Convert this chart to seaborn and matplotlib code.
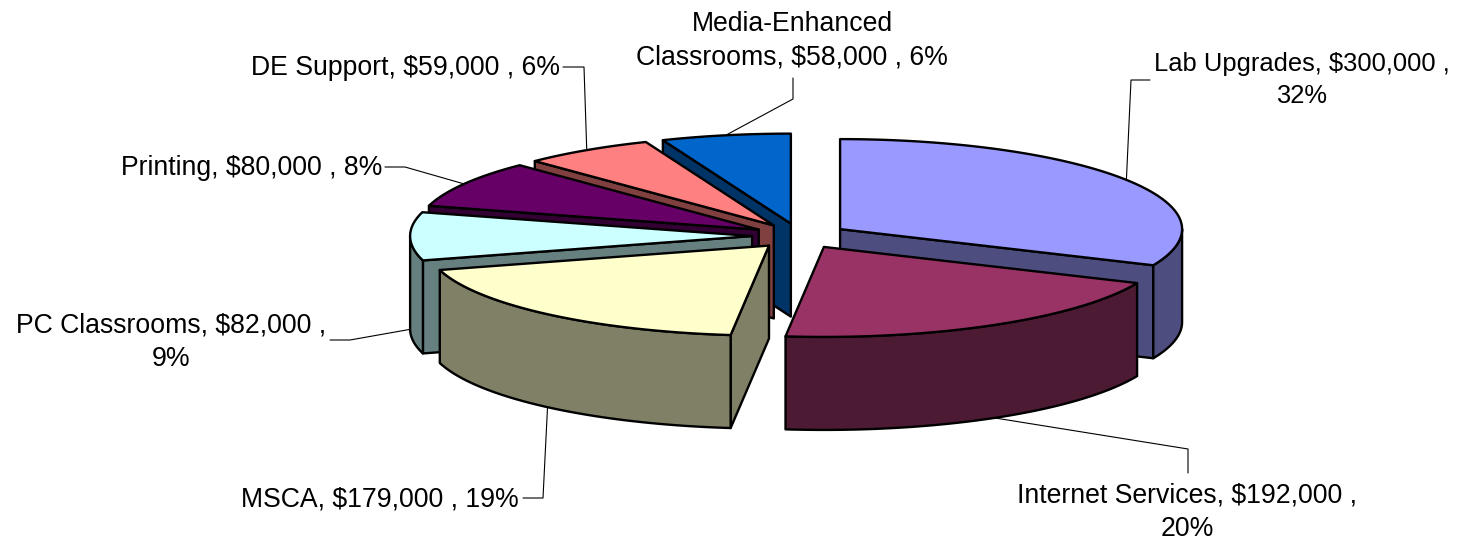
import numpy as np
import matplotlib
matplotlib.use("Agg")
import matplotlib.pyplot as plt
from matplotlib.patches import Polygon
import seaborn as sns

# categories, clockwise from 12 o'clock
names = ["Lab Upgrades", "Internet Services", "MSCA", "PC Classrooms",
         "Printing", "DE Support", "Media-Enhanced\nClassrooms"]
amounts = [300000, 192000, 179000, 82000, 80000, 59000, 58000]
percents = [32, 20, 19, 9, 8, 6, 6]
top_colors = ["#9999FF", "#993366", "#FFFFCC", "#CCFFFF", "#660066", "#FF8080", "#0066CC"]

# pie geometry, in pixels
CX, CY = 800, 236
RX, RY = 342, 90
DEPTH = 93
EXPLODE = 0.14

# back slices first, so the front ones cover them
DRAW_ORDER = [6, 5, 4, 3, 0, 2, 1]

# label centre, leader elbow points (from text towards the pie)
LABELS = {
    0: dict(xy=(1302, 80), elbow=[(1150, 80), (1131, 80)], wall=False, size=18.4, wrap=True),
    1: dict(xy=(1187, 512), elbow=[(1188, 473), (1188, 449)], wall=True, size=19.2, wrap=True),
    2: dict(xy=(380, 499), elbow=[(523, 498), (543, 498)], wall=True, size=19.2, wrap=False),
    3: dict(xy=(171, 342), elbow=[(330, 340), (350, 340)], wall=True, size=19.2, wrap=True),
    4: dict(xy=(252, 168), elbow=[(385, 167), (405, 167)], wall=False, size=19.2, wrap=False),
    5: dict(xy=(406, 68), elbow=[(563, 67), (584, 67)], wall=False, size=19.2, wrap=False),
    6: dict(xy=(792, 41), elbow=[(793, 78), (793, 99)], wall=False, size=19.2, wrap=False),
}

sns.set_style("white")
plt.rcParams["font.family"] = ["Liberation Sans", "DejaVu Sans"]

fig = plt.figure(figsize=(14.7, 5.4), dpi=100)
ax = fig.add_axes([0, 0, 1, 1])
ax.set_xlim(0, 1470)
ax.set_ylim(540, 0)
ax.axis("off")

total = sum(amounts)
edges = np.concatenate([[0], np.cumsum(amounts)]) / total * 2 * np.pi
palette = sns.color_palette(top_colors)


def rim(theta, ox, oy, dz=0):
    return np.column_stack([ox + RX * np.sin(theta), oy - RY * np.cos(theta) + dz])


def slice_origin(mid):
    return CX + EXPLODE * RX * np.sin(mid), CY - EXPLODE * RY * np.cos(mid)


def draw_slice(i):
    t0, t1 = edges[i], edges[i + 1]
    ox, oy = slice_origin((t0 + t1) / 2)
    top = palette[i]
    side = tuple(c * 0.5 for c in top)
    style = dict(ec="black", lw=1.7, joinstyle="round")

    # cut faces, only the ones turned to the viewer
    for t, visible in ((t0, np.sin(t0) < 0), (t1, np.sin(t1) > 0)):
        if visible:
            p = rim(np.array([t]), ox, oy)[0]
            ax.add_patch(Polygon([(ox, oy), p, p + (0, DEPTH), (ox, oy + DEPTH)],
                                 fc=side, **style))

    # outer wall, the front half of the ellipse only
    a, b = max(t0, np.pi / 2), min(t1, 3 * np.pi / 2)
    if a < b:
        arc = np.linspace(a, b, 120)
        ax.add_patch(Polygon(np.vstack([rim(arc, ox, oy), rim(arc[::-1], ox, oy, DEPTH)]),
                             fc=side, **style))

    # top
    arc = np.linspace(t0, t1, 200)
    ax.add_patch(Polygon(np.vstack([[(ox, oy)], rim(arc, ox, oy)]), fc=top, **style))


for i in DRAW_ORDER:
    draw_slice(i)

for i, name in enumerate(names):
    mid = (edges[i] + edges[i + 1]) / 2
    ox, oy = slice_origin(mid)
    cfg = LABELS[i]
    end = rim(np.array([mid]), ox, oy, DEPTH if cfg["wall"] else 0)[0]
    pts = np.vstack([cfg["elbow"], end])
    ax.plot(pts[:, 0], pts[:, 1], color="black", lw=0.8, zorder=5)

    sep = "\n" if cfg["wrap"] else " "
    text = f"{name}, ${amounts[i]:,} ,{sep}{percents[i]}%"
    ax.text(*cfg["xy"], text, ha="center", va="center", fontsize=cfg["size"],
            linespacing=1.39, color="black")

fig.savefig("out.png", dpi=100)
